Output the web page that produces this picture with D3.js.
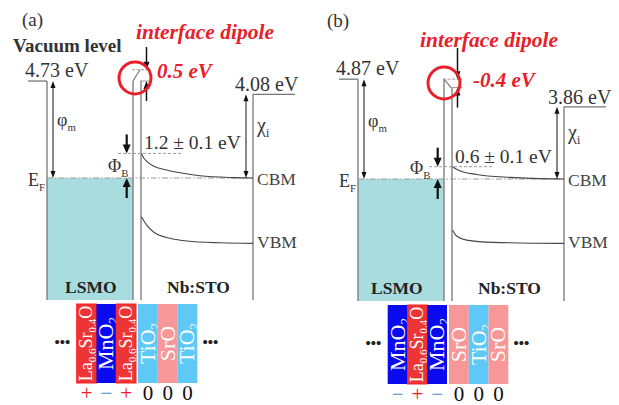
<!DOCTYPE html>
<html>
<head>
<meta charset="utf-8">
<script src="https://cdn.jsdelivr.net/npm/d3@7"></script>
<style>
  body { margin: 0; background: #fff; }
  svg text { font-family: "Liberation Serif", "Times New Roman", serif; }
</style>
</head>
<body>
<svg id="chart" width="619" height="405"></svg>
<script>
// panel data (energies in eV)
const panelLabels = ['(a)', '(b)'];
const phiM = [4.73, 4.87];          // metal work function
const chiI = [4.08, 3.86];          // Nb:STO electron affinity
const phiB = [1.2, 0.6];            // Schottky barrier
const phiBErr = [0.1, 0.1];
const dipoleLabels = ['0.5 eV', '-0.4 eV'];

// band bending, depth fraction across Nb:STO -> energy vs E_F
const cbmDepth = [[0, 0.02, 0.05, 0.106, 0.226, 0.375, 0.525, 0.825, 1], [0, 0.03, 0.066, 0.216, 0.516, 1]];
const cbmE = [[1.2, 0.98, 0.8, 0.59, 0.39, 0.23, 0.11, 0.02, 0], [0.6, 0.5, 0.4, 0.22, 0.08, 0]];
const vbmDepth = [[0, 0.045, 0.105, 0.255, 0.405, 0.705, 1], [0, 0.036, 0.126, 0.366, 1]];
const vbmE = [[-1.89, -2.29, -2.62, -2.94, -3.07, -3.16, -3.19], [-2.49, -2.78, -2.98, -3.09, -3.14]];

// atomic layer stacks at the interface
const layers = [
  ['La0.6Sr0.4O', 'MnO2', 'La0.6Sr0.4O', 'TiO2', 'SrO', 'TiO2'],
  ['MnO2', 'La0.6Sr0.4O', 'MnO2', 'SrO', 'TiO2', 'SrO']
];
const charges = [
  ['+', '−', '+', '0', '0', '0'],
  ['−', '+', '−', '0', '0', '0']
];

const layerFill = { 'La0.6Sr0.4O': '#ee3535', 'MnO2': '#0a0aee', 'TiO2': '#5ec8f6', 'SrO': '#f79797' };
const chargeColor = { '+': '#ee1c24', '−': '#4f8ccc', '0': '#111' };
const red = '#e8202a';
const lineCol = '#777';

// per-panel label placement tweaks (pixels)
const layout = [
  { tagX: 22, dipX: 136, dipY: 39, valX: 157, valY: 78, circ: [135, 78], phiBX: 108, phiBY: 172, vacRX: 235, chiNudge: 0, chiY: 132, lsmoX: 65, yShift: 0 },
  { tagX: 16, dipX: 109, dipY: 46, valX: 162, valY: 86, circ: [133, 82], phiBX: 99, phiBY: 173, vacRX: 237, chiNudge: 7, chiY: 138, lsmoX: 60, yShift: 1 }
];

const svg = d3.select('#chart');
const yE = d3.scaleLinear().domain([-3.2, 5]).range([243.6, 75.5]);
const px = d3.scaleBand().domain(panelLabels).range([0, 622]);
const xDepth = d3.scaleLinear().domain([0, 1]).range([141.5, 253]);
const layerX = d3.scaleBand().domain(d3.range(6)).range([76.7, 195.3]);
const X = { vacL: 28, metalL: 47, phiArrow: 53, metalR: 133, semiL: 141, chiArrow: 246, semiR: 253, vacR: 295, bottom: 300 };

function vline(g, x, y1, y2, col, w) {
  return g.append('line').attr('x1', x).attr('x2', x).attr('y1', y1).attr('y2', y2)
    .attr('stroke', col || lineCol).attr('stroke-width', w || 1.3);
}
function hline(g, x1, x2, y, col, w) {
  return g.append('line').attr('x1', x1).attr('x2', x2).attr('y1', y).attr('y2', y)
    .attr('stroke', col || lineCol).attr('stroke-width', w || 1.3);
}
// vertical arrow, head at yTo
function arrow(g, x, yFrom, yTo, w, hw, hl) {
  const d = yTo > yFrom ? 1 : -1;
  vline(g, x, yFrom, yTo - d * hl * 0.8, '#111', w);
  g.append('path')
    .attr('d', `M${x - hw},${yTo - d * hl}L${x + hw},${yTo - d * hl}L${x},${yTo}Z`)
    .attr('fill', '#111');
}
function subText(g, x, y, main, sub, size, col) {
  const t = g.append('text').attr('x', x).attr('y', y).attr('font-size', size).attr('fill', col || '#333');
  t.append('tspan').text(main);
  t.append('tspan').attr('font-size', size * 0.6).attr('dy', size * 0.25).text(sub);
  return t;
}

panelLabels.forEach((name, i) => {
  const L = layout[i];
  const g = svg.append('g').attr('transform', `translate(${px(name)},${L.yShift})`);
  const yF = yE(0);
  const yM = yE(phiM[i]);
  const yS = yE(chiI[i] + phiB[i]);
  const yB = yE(phiB[i]);
  const yVR = yE(chiI[i]) + L.chiNudge;

  // LSMO filled states below E_F
  g.append('rect').attr('x', X.metalL).attr('y', yF)
    .attr('width', X.metalR - X.metalL).attr('height', X.bottom - yF)
    .attr('fill', '#a9dcdf');

  // vacuum level + region edges
  hline(g, X.vacL, X.metalL, yM);
  vline(g, X.metalL, yM, X.bottom);
  vline(g, X.metalR, yM, X.bottom);
  vline(g, X.semiL, Math.max(yM, yS), X.bottom);
  vline(g, X.semiR, yVR, X.bottom);
  hline(g, X.semiR, X.vacR, yVR);

  // interface dipole step
  g.append('line').attr('x1', X.metalR).attr('y1', yM).attr('x2', X.semiL - 1).attr('y2', yS)
    .attr('stroke', lineCol).attr('stroke-width', 1.2);
  hline(g, X.metalR - 1, 151, Math.min(yM, yS), '#999', 1).attr('stroke-dasharray', '3,1.5');
  hline(g, X.semiL - 1, 151, Math.max(yM, yS), '#999', 1);

  // E_F and barrier reference lines
  hline(g, X.metalL, X.semiR, yF, '#999', 1).attr('stroke-dasharray', '6,2,1.5,2');
  hline(g, 118, 183, yB, '#999', 1).attr('stroke-dasharray', '3,2');

  // band edges
  const band = d3.line().x(d => xDepth(d[0])).y(d => yE(d[1])).curve(d3.curveMonotoneX);
  g.append('path').datum(d3.zip(cbmDepth[i], cbmE[i]))
    .attr('d', band).attr('fill', 'none').attr('stroke', '#444').attr('stroke-width', 1.1);
  g.append('path').datum(d3.zip(vbmDepth[i], vbmE[i]))
    .attr('d', band).attr('fill', 'none').attr('stroke', '#444').attr('stroke-width', 1.1);

  // phi_m and chi_i double arrows
  arrow(g, X.phiArrow, (yM + yF) / 2, yM, 1, 2.5, 7);
  arrow(g, X.phiArrow, (yM + yF) / 2, yF, 1, 2.5, 7);
  arrow(g, X.chiArrow, (yVR + yF) / 2, yVR, 1, 2.5, 7);
  arrow(g, X.chiArrow, (yVR + yF) / 2, yF, 1, 2.5, 7);

  // barrier arrows
  arrow(g, 126.7, yB - 19, yB, 2.2, 4, 9);
  arrow(g, 126.7, yF + 20, yF, 2.2, 4, 9);

  // dipole arrows
  arrow(g, 146.5, 47, Math.min(yM, yS), 1.5, 3, 8);
  arrow(g, 146.5, Math.max(yM, yS) + 20, Math.max(yM, yS), 1.5, 3, 8);

  // red circle
  g.append('circle').attr('cx', L.circ[0]).attr('cy', L.circ[1]).attr('r', 16)
    .attr('fill', 'none').attr('stroke', red).attr('stroke-width', 3);

  // texts
  g.append('text').attr('x', L.tagX).attr('y', 26).attr('font-size', 19).attr('fill', '#333').text(name);
  if (i === 0) {
    g.append('text').attr('x', 13).attr('y', 52).attr('font-size', 19).attr('font-weight', 'bold')
      .attr('fill', '#333').text('Vacuum level');
  }
  g.append('text').attr('x', L.dipX).attr('y', L.dipY).attr('font-size', 21.5)
    .attr('font-weight', 'bold').attr('font-style', 'italic').attr('fill', red).text('interface dipole');
  g.append('text').attr('x', L.valX).attr('y', L.valY).attr('font-size', 21)
    .attr('font-weight', 'bold').attr('font-style', 'italic').attr('fill', red).text(dipoleLabels[i]);

  g.append('text').attr('x', 25).attr('y', yM - 4).attr('font-size', 20).attr('fill', '#333')
    .text(`${phiM[i].toFixed(2)} eV`);
  g.append('text').attr('x', L.vacRX).attr('y', yVR - 3).attr('font-size', 20).attr('fill', '#333')
    .text(`${chiI[i].toFixed(2)} eV`);
  g.append('text').attr('x', 144).attr('y', yB - 4).attr('font-size', 19.5).attr('fill', '#333')
    .text(`${phiB[i].toFixed(1)} ± ${phiBErr[i].toFixed(1)} eV`);

  subText(g, 57, 126, 'φ', 'm', 18);
  subText(g, 257, L.chiY, 'χ', 'i', 20);
  subText(g, 28, yF + 8, 'E', 'F', 18);
  subText(g, L.phiBX, L.phiBY, 'Φ', 'B', 18);
  g.append('text').attr('x', 257).attr('y', yF + 7).attr('font-size', 17.5).attr('fill', '#444').text('CBM');
  g.append('text').attr('x', 257).attr('y', yE(vbmE[i][vbmE[i].length - 1]) + 5).attr('font-size', 17.5)
    .attr('fill', '#444').text('VBM');
  g.append('text').attr('x', L.lsmoX).attr('y', 293).attr('font-size', 17.5).attr('font-weight', 'bold')
    .attr('fill', '#222').text('LSMO');
  g.append('text').attr('x', 167).attr('y', 293).attr('font-size', 17.5).attr('font-weight', 'bold')
    .attr('fill', '#222').text('Nb:STO');

  // layer stack
  const lx = k => layerX(k) + (k >= 3 ? 2 : 0);
  const bw = layerX.bandwidth();
  const yTop = 304, yBot = 383;
  layers[i].forEach((lay, k) => {
    const isLa = lay.startsWith('La');
    const fs = isLa ? 18 : 22, ss = isLa ? 11 : 13;
    g.append('rect').attr('x', lx(k)).attr('y', yTop).attr('width', bw).attr('height', yBot - yTop)
      .attr('fill', layerFill[lay])
      .attr('stroke', isLa ? '#ff2020' : 'none').attr('stroke-width', 1);
    const t = g.append('text')
      .attr('transform', `translate(${lx(k) + bw / 2 + fs * 0.32},${(yTop + yBot) / 2}) rotate(-90)`)
      .attr('text-anchor', 'middle').attr('font-size', fs).attr('fill', '#fff');
    let down = false;
    lay.match(/[A-Za-z]+|[0-9.]+/g).forEach(part => {
      const sp = t.append('tspan').text(part);
      if (/^[0-9.]/.test(part)) {
        sp.attr('font-size', ss);
        if (!down) { sp.attr('dy', 4); down = true; }
      } else if (down) {
        sp.attr('dy', -4); down = false;
      }
    });
    g.append('text').attr('x', lx(k) + bw / 2).attr('y', 400).attr('text-anchor', 'middle')
      .attr('font-size', 21).attr('fill', chargeColor[charges[i][k]]).text(charges[i][k]);
  });
  [62.5, 210.5].forEach(x => {
    g.append('text').attr('x', x).attr('y', 347).attr('text-anchor', 'middle')
      .attr('font-size', 15).attr('font-weight', 'bold').attr('fill', '#222').text('•••');
  });
});
</script>
</body>
</html>
